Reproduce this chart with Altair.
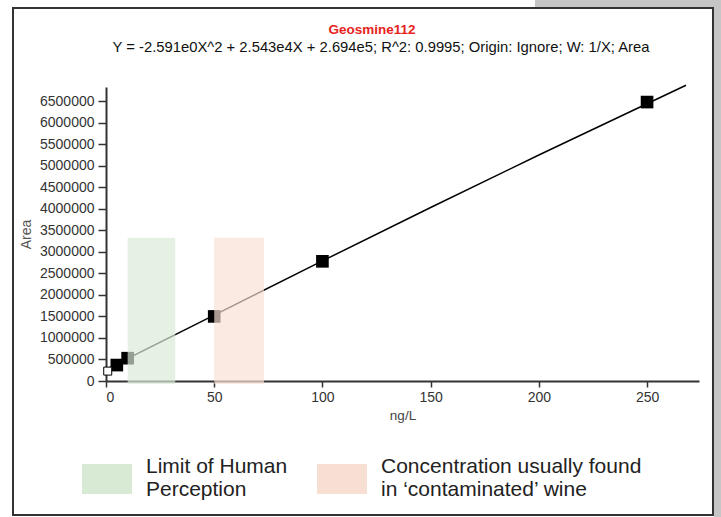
import altair as alt
import pandas as pd

# calibration points
pt_x = [5, 10, 50, 100, 250]
pt_y = [370000, 530000, 1500000, 2780000, 6480000]
# excluded / hollow point
open_x = [0.8]
open_y = [230000]
# fitted curve points
fit_x = [0, 50, 100, 150, 200, 268]
fit_y = [270000, 1530000, 2790000, 4030000, 5250000, 6870000]
# shaded bands
band_labels = ["Limit of Human|Perception", "Concentration usually found|in \u2018contaminated\u2019 wine"]
band_x0 = [10, 50]
band_x1 = [32, 73]
band_y0 = [-70000, -70000]
band_y1 = [3330000, 3330000]
band_colors = ["#d8ead4", "#f7e0d3"]

x_ticks = [0, 50, 100, 150, 200, 250]
y_ticks = [i * 500000 for i in range(14)]

title_text = ["Geosmine112"]
subtitle_text = ["Y = -2.591e0X^2 + 2.543e4X + 2.694e5; R^2: 0.9995; Origin: Ignore; W: 1/X; Area"]

FONT = "Liberation Sans"

xs = alt.Scale(domain=[0, 274], nice=False, zero=False)
ys = alt.Scale(domain=[0, 6830000], nice=False, zero=False)

pts = pd.DataFrame({"x": pt_x, "y": pt_y})
opn = pd.DataFrame({"x": open_x, "y": open_y})
fit = pd.DataFrame({"x": fit_x, "y": fit_y})
bands = pd.DataFrame({"label": band_labels, "x0": band_x0, "x1": band_x1,
                      "y0": band_y0, "y1": band_y1})

deco = pd.DataFrame({"a": [0]})
frame = alt.Chart(deco).mark_rect(fill=None, fillOpacity=0, stroke="#333333", strokeWidth=2).encode(
    x=alt.value(-93), x2=alt.value(607), y=alt.value(-79), y2=alt.value(428))
gray_r = alt.Chart(deco).mark_rect(fill="#c6c6c6").encode(
    x=alt.value(608), x2=alt.value(615), y=alt.value(-87), y2=alt.value(430))
gray_t = alt.Chart(deco).mark_rect(fill="#c6c6c6").encode(
    x=alt.value(429), x2=alt.value(615), y=alt.value(-87), y2=alt.value(-80))

ttl = alt.Chart(pd.DataFrame({"t": title_text})).mark_text(
    font=FONT, fontSize=13.5, fontWeight="bold", color="#e8221c", align="center", baseline="middle"
).encode(text="t:N", x=alt.value(266), y=alt.value(-57))
sub = alt.Chart(pd.DataFrame({"t": subtitle_text})).mark_text(
    font=FONT, fontSize=14.8, color="#111111", align="center", baseline="middle"
).encode(text="t:N", x=alt.value(275), y=alt.value(-39))

x_axis = alt.Axis(title="ng/L", values=x_ticks, grid=False, domainColor="#333333", domainWidth=2,
                  tickColor="#333333", tickWidth=1.5, tickSize=6, labelPadding=3,
                  labelFontSize=14, labelFont=FONT, labelColor="#333333",
                  titleFont=FONT, titleFontSize=13.5, titleFontWeight="normal", titleColor="#444444",
                  titlePadding=4)
y_axis = alt.Axis(title="Area", values=y_ticks, format="d", grid=False, domainColor="#333333",
                  domainWidth=2, tickColor="#333333", tickWidth=1.5, tickSize=8, labelPadding=4,
                  labelOverlap=False, labelFontSize=14, labelFont=FONT, labelColor="#333333",
                  titleFont=FONT, titleFontSize=14, titleFontWeight="normal", titleColor="#555555",
                  titlePadding=6)

X = lambda f: alt.X(f, scale=xs, axis=x_axis)
Y = lambda f: alt.Y(f, scale=ys, axis=y_axis)

line = alt.Chart(fit).mark_line(color="black", strokeWidth=1.5).encode(
    x=X("x:Q"), y=Y("y:Q"))
squares = alt.Chart(pts).mark_square(size=160, color="black", opacity=1).encode(
    x=X("x:Q"), y=Y("y:Q"))
hollow = alt.Chart(opn).mark_square(size=64, filled=False, fill="white", stroke="black",
                                    strokeWidth=1, opacity=1).encode(
    x=X("x:Q"), y=Y("y:Q"))

rects = alt.Chart(bands).mark_rect(opacity=0.68).encode(
    x=X("x0:Q"), x2="x1:Q",
    y=Y("y0:Q"), y2="y1:Q",
    fill=alt.Fill("label:N", scale=alt.Scale(domain=band_labels, range=band_colors),
                  legend=alt.Legend(title=None, orient="none", legendX=-24, legendY=355,
                                    direction="horizontal", columns=2, padding=0,
                                    symbolType="M-1,-0.12L1,-0.12L1,1.08L-1,1.08Z",
                                    symbolSize=2500, symbolStrokeWidth=0, symbolOpacity=1,
                                    labelExpr="split(datum.label, '|')",
                                    labelFont=FONT, labelFontSize=21, labelColor="#222222",
                                    labelBaseline="middle",
                                    labelOffset=14, labelLimit=400, columnPadding=29)),
)

chart = alt.layer(gray_t, gray_r, frame, ttl, sub, line, squares, hollow, rects).properties(
    width=593, height=294,
    autosize=alt.AutoSizeParams(type="none"),
    padding={"left": 106, "top": 87, "right": 22, "bottom": 136},
).configure(background="white").configure_view(strokeWidth=0, stroke="transparent")

chart.save("out.html", embed_options={"renderer": "svg", "actions": False})
